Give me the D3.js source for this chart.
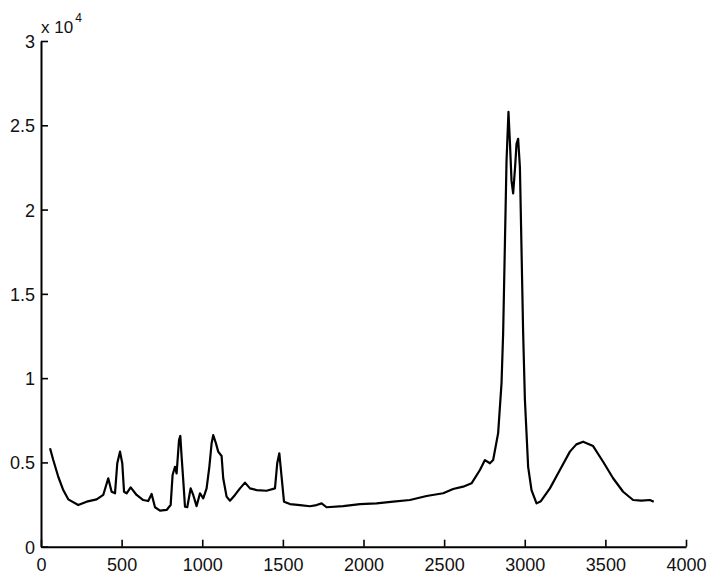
<!DOCTYPE html>
<html>
<head>
<meta charset="utf-8">
<script src="https://cdn.jsdelivr.net/npm/d3@7"></script>
<style>
  body { margin: 0; background: #fff; }
  svg { display: block; }
</style>
</head>
<body>
<svg id="chart" width="725" height="580"></svg>
<script>
// Spectrum (x = wavenumber, y = intensity)
var wavenumber = [56, 76, 107, 138, 169, 231, 283, 345, 386, 417, 438, 459, 473, 490, 504, 515, 531, 556, 593, 634,
  665, 686, 707, 738, 779, 804, 816, 831, 841, 856, 864, 872, 882, 893, 907, 928, 944, 965, 986, 1006,
  1027, 1044, 1058, 1068, 1085, 1099, 1120, 1130, 1151, 1172, 1203, 1234, 1265, 1296, 1337, 1399, 1451, 1465, 1478, 1492,
  1507, 1544, 1606, 1668, 1709, 1740, 1771, 1874, 1978, 2081, 2184, 2288, 2391, 2494, 2556, 2618, 2670, 2722, 2753, 2784,
  2804, 2835, 2856, 2866, 2877, 2887, 2899, 2908, 2918, 2928, 2940, 2949, 2959, 2970, 2980, 2990, 3001, 3011, 3021, 3042,
  3073, 3100, 3156, 3218, 3280, 3320, 3362, 3424, 3486, 3548, 3610, 3672, 3724, 3776, 3800];
var intensity = [5840, 5140, 4150, 3360, 2810, 2470, 2670, 2810, 3070, 4060, 3260, 3170, 4950, 5640, 4950, 3260, 3170, 3520, 3070, 2770,
  2710, 3130, 2340, 2140, 2180, 2470, 4250, 4740, 4350, 6330, 6570, 5340, 3960, 2370, 2340, 3460, 3070, 2410, 3170, 2870,
  3460, 4740, 6130, 6620, 6130, 5640, 5380, 4060, 2970, 2730, 3070, 3460, 3800, 3460, 3360, 3320, 3460, 4950, 5540, 4150,
  2670, 2530, 2470, 2400, 2470, 2570, 2340, 2410, 2530, 2570, 2670, 2770, 3010, 3170, 3420, 3560, 3760, 4550, 5140, 4950,
  5140, 6740, 9700, 12670, 18000, 22900, 25800, 24000, 21700, 20960, 22500, 23900, 24200, 22500, 17600, 12700, 8700, 6730, 4740, 3360,
  2570, 2700, 3460, 4550, 5640, 6070, 6230, 5970, 5040, 4060, 3260, 2770, 2730, 2770, 2670];

var xTicks = [0, 500, 1000, 1500, 2000, 2500, 3000, 3500, 4000];
var yTicks = [0, 5000, 10000, 15000, 20000, 25000, 30000];
var yTickLabels = ["0", "0.5", "1", "1.5", "2", "2.5", "3"];

var svg = d3.select("#chart");
var fontFamily = "Arial, 'Liberation Sans', sans-serif";

var x = d3.scaleLinear().domain([0, 4000]).range([41, 686]);
var y = d3.scaleLinear().domain([0, 30000]).range([546.7, 41]);

var data = wavenumber.map(function(d, i) { return [d, intensity[i]]; });

// Axes (ticks point inward, like MATLAB)
var xAxis = svg.append("g")
  .attr("transform", "translate(0," + y(0) + ")")
  .call(d3.axisBottom(x).tickValues(xTicks).tickSizeInner(-7).tickSizeOuter(0).tickPadding(12)
    .tickFormat(d3.format("d")));

var yAxis = svg.append("g")
  .attr("transform", "translate(" + x(0) + ",0)")
  .call(d3.axisLeft(y).tickValues(yTicks).tickSizeInner(-7).tickSizeOuter(0).tickPadding(6)
    .tickFormat(function(d, i) { return yTickLabels[i]; }));

[xAxis, yAxis].forEach(function(g) {
  g.select(".domain").attr("stroke", "#000").attr("stroke-width", 2);
  g.selectAll(".tick line").attr("stroke", "#000").attr("stroke-width", 1.6);
  g.selectAll(".tick text")
    .attr("fill", "#111")
    .attr("font-family", fontFamily)
    .attr("font-size", 18);
});
yAxis.selectAll(".tick text").attr("dy", "0.36em");

// Exponent label
var expo = svg.append("text")
  .attr("x", 41)
  .attr("y", 33)
  .attr("font-family", fontFamily)
  .attr("font-size", 17)
  .attr("fill", "#111");
expo.append("tspan").text("x 10");
expo.append("tspan").attr("dy", -11).attr("dx", 2).attr("font-size", 12).text("4");

// Spectrum line
var line = d3.line()
  .x(function(d) { return x(d[0]); })
  .y(function(d) { return y(d[1]); });

svg.append("path")
  .datum(data)
  .attr("fill", "none")
  .attr("stroke", "#000")
  .attr("stroke-width", 2.2)
  .attr("stroke-linejoin", "round")
  .attr("d", line);
</script>
</body>
</html>
